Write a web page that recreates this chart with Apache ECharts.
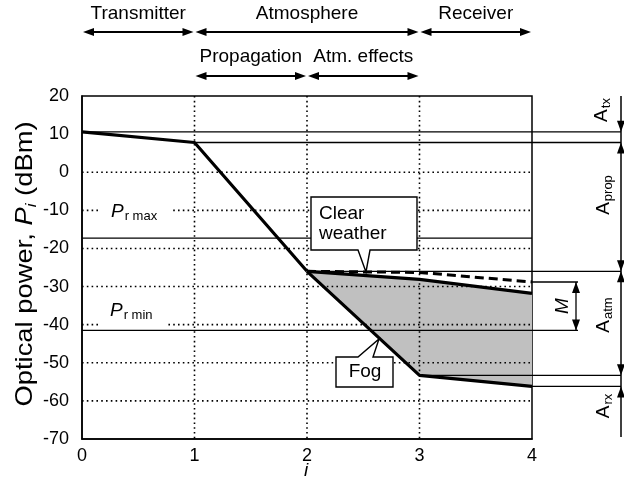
<!DOCTYPE html>
<html><head><meta charset="utf-8">
<script src="https://cdn.jsdelivr.net/npm/echarts@6/dist/echarts.min.js"></script>
<style>html,body{margin:0;padding:0;background:#fff}#c{width:624px;height:495px}</style>
</head><body><div id="c"></div>
<script>
// Link budget: stage index i vs optical power P_i (dBm)
const txI = [0, 1, 2];
const txP = [10.6, 7.8, -26];          // transmitter + propagation
const rxI = [2, 3, 4];
const clearIdeal = [-26, -26.3, -28.8]; // clear weather, dashed
const clearWeather = [-26, -28.1, -31.8];
const fogP = [-26, -53.3, -56.2];
const prMax = -17.3;
const prMin = -41.5;
const gridLevels = [0, -10, -20, -30, -40, -50, -60];
const gridStages = [1, 2, 3];
// dimension levels on the right-hand scale (start stage, level)
const refStart = [0, 1, 2, 3, 4];
const refLevel = [10.6, 7.8, -26, -53.3, -56.2];
// stage spans drawn above the plot
const stageRow1 = [[0, 1, 'Transmitter'], [1, 3, 'Atmosphere'], [3, 4, 'Receiver']];
const stageRow2 = [[1, 2, 'Propagation'], [2, 3, 'Atm. effects']];

const FONT = '"Liberation Sans", Arial, sans-serif';
const FS = 19;
const DIM_X = 621;   // right-hand dimension line
const M_X = 578;     // end of margin bracket ticks
const M_LINE_X = 576;

const chart = echarts.init(document.getElementById('c'), null, {renderer: 'canvas'});

function arrowHead(x, y, dir) { // dir: 1 points down, -1 points up, tip at (x,y)
  return {type: 'polygon', shape: {points: [[x, y], [x - 4, y - dir * 11], [x + 4, y - dir * 11]]},
    style: {fill: '#000'}};
}
function hArrowHead(x, y, dir) { // dir: 1 points right, -1 points left
  return {type: 'polygon', shape: {points: [[x, y], [x - dir * 11, y - 4], [x - dir * 11, y + 4]]},
    style: {fill: '#000'}};
}

const xy = (xs, ys) => xs.map((x, k) => [x, ys[k]]);

const option = {
  animation: false,
  backgroundColor: '#fff',
  grid: {left: 82, right: 92, top: 96, bottom: 56, show: true, borderColor: '#000', borderWidth: 1.5, backgroundColor: 'transparent'},
  xAxis: {type: 'value', min: 0, max: 4, interval: 1,
    axisLine: {show: true, onZero: false, lineStyle: {color: '#000', width: 1.5}}, axisTick: {show: false},
    splitLine: {show: false},
    axisLabel: {color: '#000', fontSize: 18, fontFamily: FONT, margin: 8}},
  yAxis: {type: 'value', min: -70, max: 20, interval: 10,
    axisLine: {show: true, onZero: false, lineStyle: {color: '#000', width: 1.5}}, axisTick: {show: false},
    splitLine: {show: false},
    axisLabel: {color: '#000', fontSize: 18, fontFamily: FONT, margin: 13}},
  series: [
    { // grey band between clear weather and fog
      type: 'custom', z: 1, data: [0],
      renderItem: (p, api) => {
        const pts = xy(rxI, clearWeather).concat(xy(rxI, fogP).reverse()).map(d => api.coord(d));
        return {type: 'polygon', shape: {points: pts}, style: {fill: '#c0c0c0'}};
      }
    },
    { // dotted grid
      type: 'custom', z: 2, data: [0],
      renderItem: (p, api) => {
        const ch = [];
        const ds = {stroke: '#000', lineWidth: 1.6, lineDash: [1.6, 3.2]};
        gridLevels.forEach(v => {
          const a = api.coord([0, v]), b = api.coord([4, v]);
          ch.push({type: 'line', shape: {x1: a[0], y1: a[1], x2: b[0], y2: b[1]}, style: ds});
        });
        gridStages.forEach(s => {
          const a = api.coord([s, 20]), b = api.coord([s, -70]);
          ch.push({type: 'line', shape: {x1: a[0], y1: a[1], x2: b[0], y2: b[1]}, style: ds});
        });
        return {type: 'group', children: ch};
      }
    },
    { // reference levels, dimension arrows and stage spans
      type: 'custom', z: 3, clip: false, data: [0],
      renderItem: (p, api) => {
        const ch = [];
        const ls = {stroke: '#000', lineWidth: 1.3};
        refLevel.forEach((v, k) => {
          const a = api.coord([refStart[k], v]);
          ch.push({type: 'line', shape: {x1: a[0], y1: a[1], x2: DIM_X, y2: a[1]}, style: ls});
        });
        const pmx = api.coord([0, prMax]), pmxR = api.coord([4, prMax]);
        ch.push({type: 'line', shape: {x1: pmx[0], y1: pmx[1], x2: pmxR[0], y2: pmx[1]}, style: ls});
        const pmn = api.coord([0, prMin]);
        ch.push({type: 'line', shape: {x1: pmn[0], y1: pmn[1], x2: M_X, y2: pmn[1]}, style: ls});
        const mt = api.coord([4, clearIdeal[2]]);
        ch.push({type: 'line', shape: {x1: mt[0], y1: mt[1], x2: M_X, y2: mt[1]}, style: ls});
        // margin bracket
        ch.push({type: 'line', shape: {x1: M_LINE_X, y1: mt[1], x2: M_LINE_X, y2: pmn[1]}, style: ls});
        ch.push(arrowHead(M_LINE_X, mt[1], -1));
        ch.push(arrowHead(M_LINE_X, pmn[1], 1));
        // right-hand dimension line
        const top = api.coord([4, 20]), bot = api.coord([4, -69.5]);
        ch.push({type: 'line', shape: {x1: DIM_X, y1: top[1], x2: DIM_X, y2: bot[1]}, style: {stroke: '#000', lineWidth: 1.5}});
        const yl = refLevel.map(v => api.coord([4, v])[1]);
        ch.push(arrowHead(DIM_X, yl[0], 1));
        ch.push(arrowHead(DIM_X, yl[1], -1));
        ch.push(arrowHead(DIM_X, yl[2], 1));
        ch.push(arrowHead(DIM_X, yl[2], -1));
        ch.push(arrowHead(DIM_X, yl[3], 1));
        ch.push(arrowHead(DIM_X, yl[4], -1));
        // stage spans above the plot
        const spans = (row, yArrow, yText) => row.forEach(([a, b, name]) => {
          const xa = api.coord([a, 0])[0] + 1, xb = api.coord([b, 0])[0] - 1;
          ch.push({type: 'line', shape: {x1: xa + 4, y1: yArrow, x2: xb - 4, y2: yArrow}, style: {stroke: '#000', lineWidth: 2}});
          ch.push(hArrowHead(xa, yArrow, -1));
          ch.push(hArrowHead(xb, yArrow, 1));
          ch.push({type: 'text', x: (xa + xb) / 2, y: yText,
            style: {text: name, fill: '#000', font: FS + 'px ' + FONT, align: 'center', verticalAlign: 'middle'}});
        });
        spans(stageRow1, 32, 14);
        spans(stageRow2, 76, 57);
        return {type: 'group', children: ch};
      }
    },
    {type: 'line', z: 4, data: xy(txI, txP), symbol: 'none', lineStyle: {color: '#000', width: 3.2}},
    {type: 'line', z: 4, data: xy(rxI, clearIdeal), symbol: 'none', lineStyle: {color: '#000', width: 3, type: [9, 5]}},
    {type: 'line', z: 4, data: xy(rxI, clearWeather), symbol: 'none', lineStyle: {color: '#000', width: 3.2}},
    {type: 'line', z: 4, data: xy(rxI, fogP), symbol: 'none', lineStyle: {color: '#000', width: 3.2}}
  ]
};
chart.setOption(option);

// annotations
const txt = (x, y, text) => ({type: 'text', x, y, z: 100,
  style: {text, fill: '#000', font: FS + 'px ' + FONT, align: 'center', verticalAlign: 'middle'}});

const subRich = {
  a: {fontSize: FS, fontFamily: FONT, lineHeight: 22},
  ai: {fontSize: FS, fontFamily: FONT, fontStyle: 'italic', lineHeight: 22},
  s: {fontSize: 13, fontFamily: FONT, lineHeight: 13, verticalAlign: 'bottom', padding: [0, 0, 0, 1]}
};
const richText = (x, y, text, rot, align) => ({type: 'text', x, y, z: 100, rotation: rot || 0,
  style: {text, rich: subRich, fill: '#000', align: align || 'center', verticalAlign: 'middle', font: FS + 'px ' + FONT}});

const g = [];

// receiver sensitivity labels
g.push({type: 'rect', z: 99, shape: {x: 98, y: 197, width: 72, height: 28}, style: {fill: '#fff'}});
g.push(richText(111, 212, '{ai|P}{s|r max}', 0, 'left'));
g.push({type: 'rect', z: 99, shape: {x: 98, y: 296, width: 70, height: 31}, style: {fill: '#fff'}});
g.push(richText(110, 311, '{ai|P}{s|r min}', 0, 'left'));

// right-hand dimension labels (read bottom to top)
g.push(richText(602, 110, '{a|A}{s|tx}', Math.PI / 2));
g.push(richText(604, 195, '{a|A}{s|prop}', Math.PI / 2));
g.push(richText(604, 315, '{a|A}{s|atm}', Math.PI / 2));
g.push(richText(604, 406, '{a|A}{s|rx}', Math.PI / 2));
g.push({type: 'text', x: 563, y: 306, z: 100, rotation: Math.PI / 2,
  style: {text: 'M', fill: '#000', font: 'italic ' + FS + 'px ' + FONT, align: 'center', verticalAlign: 'middle'}});

// callouts
g.push({type: 'polygon', z: 100, shape: {points: [[311, 197], [417, 197], [417, 250], [370, 250], [366, 272], [358, 250], [311, 250]]},
  style: {fill: '#fff', stroke: '#000', lineWidth: 1.4}});
g.push({type: 'text', x: 319, y: 224, z: 101, style: {text: 'Clear\nweather', fill: '#000', font: FS + 'px ' + FONT, lineHeight: 20, align: 'left', verticalAlign: 'middle'}});
g.push({type: 'polygon', z: 100, shape: {points: [[336, 357], [358, 357], [379, 339], [373, 357], [393, 357], [393, 387], [336, 387]]},
  style: {fill: '#fff', stroke: '#000', lineWidth: 1.4}});
g.push(txt(365, 372, 'Fog'));

// axis titles
g.push({type: 'text', x: 25, y: 264, z: 100, rotation: Math.PI / 2, scaleX: 1.14,
  style: {text: 'Optical power, {ai|P}{si|i} (dBm)', fill: '#000', font: '24px ' + FONT, align: 'center', verticalAlign: 'middle',
    rich: {ai: {fontSize: 24, fontFamily: FONT, fontStyle: 'italic', lineHeight: 28},
      si: {fontSize: 15, fontFamily: FONT, fontStyle: 'italic', lineHeight: 15, verticalAlign: 'bottom'}}}});
g.push({type: 'text', x: 306, y: 471, z: 100,
  style: {text: 'i', fill: '#000', font: 'italic ' + FS + 'px ' + FONT, align: 'center', verticalAlign: 'middle'}});

chart.setOption({graphic: {elements: g}});
</script>
</body></html>
